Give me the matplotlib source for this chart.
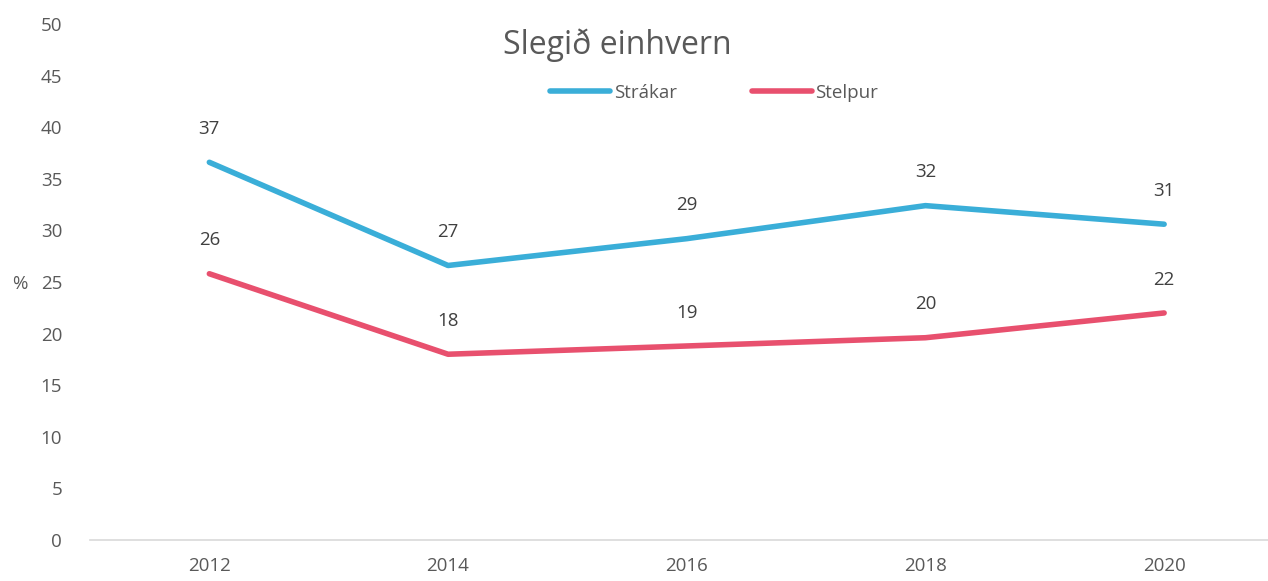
import matplotlib.pyplot as plt

years = ['2012', '2014', '2016', '2018', '2020']
strakar = [36.6, 26.6, 29.2, 32.4, 30.6]
stelpur = [25.8, 18.0, 18.8, 19.6, 22.0]

grey = '#595959'
plt.rcParams['font.family'] = ['Open Sans', 'DejaVu Sans']

fig = plt.figure(figsize=(12.68, 5.81), dpi=100)
ax = fig.add_axes([90 / 1268, 41 / 581, 1178 / 1268, 516 / 581])

x = range(len(years))
ax.plot(x, strakar, color='#3AAED8', lw=4, label='Strákar', solid_capstyle='round')
ax.plot(x, stelpur, color='#E8506E', lw=4, label='Stelpur', solid_capstyle='round')

for vals in (strakar, stelpur):
    for xi, v in zip(x, vals):
        ax.annotate(f'{round(v):.0f}', (xi, v), xytext=(0, 24), textcoords='offset points',
                    ha='center', va='center', fontsize=13.5, color='#404040')

ax.set_xlim(-0.5, (1268 - 208) / 239)
ax.set_ylim(0, 50)
ax.set_yticks(range(0, 51, 5))
ax.set_xticks(list(x))
ax.set_xticklabels(years)
ax.tick_params(length=0, labelsize=13.5, colors=grey, pad=12)
ax.tick_params(axis='y', pad=20)
for s in ['top', 'right', 'left']:
    ax.spines[s].set_visible(False)
ax.spines['bottom'].set_color('#d9d9d9')
ax.spines['bottom'].set_linewidth(1.2)

fig.text(20 / 1268, 1 - 284 / 581, '%', fontsize=13.5, color=grey, ha='center', va='center')
fig.text(617 / 1268, 1 - 45 / 581, 'Slegið einhvern', fontsize=23, color=grey, ha='center', va='center')

ax.legend(loc='center', bbox_to_anchor=(714 / 1268, 1 - 93 / 581), bbox_transform=fig.transFigure,
          ncol=2, frameon=False, fontsize=13.5, labelcolor=grey, handlelength=3.2,
          handletextpad=0.2, columnspacing=4.0)

fig.savefig('out.png', dpi=100)
